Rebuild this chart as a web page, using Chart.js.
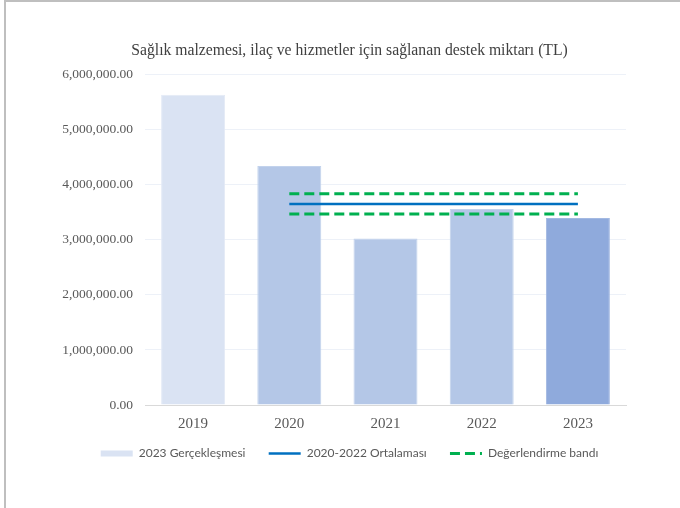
<!DOCTYPE html>
<html>
<head>
<meta charset="utf-8">
<script src="https://cdn.jsdelivr.net/npm/chart.js@4"></script>
<style>
  body { margin: 0; background: #fff; }
  #frame {
    position: absolute; left: 4px; top: 0; width: 720px; height: 540px;
    border-top: 2px solid #bfbfbf; border-left: 2px solid #bfbfbf;
  }
  #wrap { position: absolute; left: 0; top: 0; width: 680px; height: 508px; }
</style>
</head>
<body>
<div id="frame"></div>
<div id="wrap"><canvas id="myChart"></canvas></div>
<script>
// values
const years = ["2019", "2020", "2021", "2022", "2023"];
const supportAmounts = [5636000, 4342000, 3025000, 3564000, 3400000];
const average2020_2022 = [null, 3655000, 3655000, 3655000, 3655000];
const bandUpper = [null, 3838000, 3838000, 3838000, 3838000];
const bandLower = [null, 3472000, 3472000, 3472000, 3472000];
const yTickLabels = ["0.00", "1,000,000.00", "2,000,000.00", "3,000,000.00", "4,000,000.00", "5,000,000.00", "6,000,000.00"];

const barColors = ["#dae3f3", "#b4c7e7", "#b4c7e7", "#b4c7e7", "#8faadc"];
const barEdges = ["#e3eaf6", "#c2d2ec", "#c2d2ec", "#c2d2ec", "#a3b9e2"];

const ctx = document.getElementById("myChart").getContext("2d");
new Chart(ctx, {
  data: {
    labels: years,
    datasets: [
      {
        type: "bar",
        label: "2023 Gerçekleşmesi",
        data: supportAmounts,
        backgroundColor: barColors,
        borderColor: barEdges,
        borderWidth: 1,
        barPercentage: 1,
        categoryPercentage: 0.665,
        order: 2,
      },
      {
        type: "line",
        label: "2020-2022 Ortalaması",
        data: average2020_2022,
        borderColor: "#0070c0",
        borderWidth: 2.5,
        pointRadius: 0,
        order: 1,
      },
      {
        type: "line",
        label: "Değerlendirme bandı",
        data: bandUpper,
        borderColor: "#00b050",
        borderWidth: 3,
        borderDash: [10, 5],
        pointRadius: 0,
        order: 1,
      },
      {
        type: "line",
        label: "Değerlendirme bandı (alt)",
        data: bandLower,
        borderColor: "#00b050",
        borderWidth: 3,
        borderDash: [10, 5],
        pointRadius: 0,
        order: 1,
      },
    ],
  },
  options: {
    responsive: true,
    maintainAspectRatio: false,
    animation: false,
    layout: { padding: { left: 19, right: 0, top: 0, bottom: 38.5 } },
    scales: {
      x: {
        grid: { display: false },
        border: { color: "#d9d9d9", width: 1 },
        ticks: {
          color: "#595959",
          font: { family: "Liberation Serif", size: 15 },
          padding: 2,
        },
        afterFit: (s) => { s.height = 28.5; },
      },
      y: {
        min: 0,
        max: 6000000,
        ticks: {
          stepSize: 1000000,
          color: "#595959",
          font: { family: "Liberation Serif", size: 13.5 },
          padding: 12,
          callback: (v, i) => yTickLabels[i],
        },
        grid: {
          drawTicks: false,
          color: (c) => (c.tick && c.tick.value === 0 ? "#d9d9d9" : "#edf1f8"),
        },
        border: { display: false },
        afterFit: (s) => { s.width = 126; },
      },
      // empty right axis just to keep space on the right side of the plot
      yRight: {
        position: "right",
        display: true,
        grid: { display: false },
        border: { display: false },
        ticks: { display: false },
        afterFit: (s) => { s.width = 54; },
      },
    },
    plugins: {
      title: {
        display: true,
        text: "Sağlık malzemesi, ilaç ve hizmetler için sağlanan destek miktarı (TL)",
        color: "#404040",
        font: { family: "Liberation Serif", size: 15.7, weight: "normal" },
        padding: { top: 41, bottom: 15 },
      },
      legend: {
        position: "bottom",
        labels: {
          color: "#595959",
          font: { family: "Lato", size: 12 },
          usePointStyle: true,
          pointStyleWidth: 32,
          boxHeight: 6,
          padding: 14,
          sort: (a, b) => a.datasetIndex - b.datasetIndex,
          filter: (item) => item.datasetIndex !== 3,
          generateLabels: (chart) => {
            const items = Chart.defaults.plugins.legend.labels.generateLabels(chart);
            items.forEach((it) => {
              const ds = chart.data.datasets[it.datasetIndex];
              if (it.datasetIndex === 0) {
                it.pointStyle = "rect";
                it.lineWidth = 0;
                it.fillStyle = barColors[0];
              } else {
                it.pointStyle = "line";
                it.strokeStyle = ds.borderColor;
                it.lineWidth = ds.borderWidth;
                it.lineDash = ds.borderDash || [];
              }
              // a bit more room after the first two entries, like the original legend
              if (it.datasetIndex < 2) it.text = it.text + "   ";
            });
            return items;
          },
        },
      },
      tooltip: { enabled: false },
    },
  },
});
</script>
</body>
</html>
